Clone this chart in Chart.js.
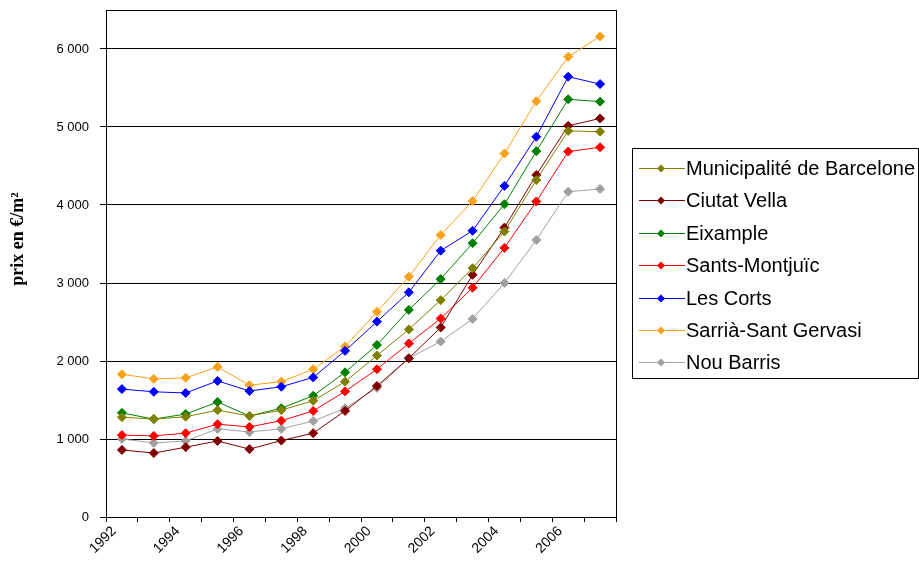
<!DOCTYPE html>
<html>
<head>
    <title>Prix au m2 - Barcelone</title>
    <script src="https://cdn.jsdelivr.net/npm/chart.js"></script>
    <style>
        html, body {margin: 0; padding: 0; background: #fff;}
        #chartContainer {width: 919px; height: 578px; position: relative;}
    </style>
</head>
<body>
<div id="chartContainer">
    <canvas id="chart" width="919" height="578"></canvas>
</div>

<script>
    // years on the x axis, only the even ones get a label
    var years = ['1992', '1993', '1994', '1995', '1996', '1997', '1998', '1999',
                 '2000', '2001', '2002', '2003', '2004', '2005', '2006', '2007'];
    var yTicks = [0, 1000, 2000, 3000, 4000, 5000, 6000];

    // prix en euros par m2
    var municipalite = [1280, 1255, 1285, 1370, 1295, 1370, 1490, 1735, 2070, 2405, 2780, 3190, 3660, 4320, 4950, 4940];
    var ciutatVella  = [860, 820, 895, 975, 870, 980, 1075, 1360, 1680, 2035, 2430, 3105, 3710, 4385, 5015, 5110];
    var eixample     = [1335, 1255, 1320, 1475, 1295, 1395, 1555, 1855, 2205, 2655, 3050, 3510, 4010, 4690, 5355, 5325];
    var santsMontjuic = [1050, 1040, 1075, 1190, 1155, 1235, 1360, 1610, 1895, 2225, 2545, 2940, 3450, 4045, 4685, 4740];
    var lesCorts     = [1640, 1605, 1590, 1745, 1615, 1670, 1790, 2130, 2505, 2880, 3415, 3670, 4245, 4875, 5645, 5550];
    var sarria       = [1830, 1770, 1785, 1925, 1690, 1735, 1895, 2185, 2630, 3080, 3615, 4050, 4660, 5330, 5900, 6160];
    var nouBarris    = [1000, 950, 975, 1130, 1090, 1130, 1230, 1395, 1655, 2035, 2250, 2540, 3000, 3550, 4170, 4205];

    var seriesNames = ['Municipalité de Barcelone', 'Ciutat Vella', 'Eixample', 'Sants-Montjuïc',
                       'Les Corts', 'Sarrià-Sant Gervasi', 'Nou Barris'];
    var seriesData = [municipalite, ciutatVella, eixample, santsMontjuic, lesCorts, sarria, nouBarris];
    var seriesColors = ['#808000', '#800000', '#008000', '#FF0000', '#0000FF', '#F9A11B', '#A0A0A0'];

    var sansFont = "'Liberation Sans', Arial, sans-serif";

    var datasets = seriesNames.map(function(name, i) {
        return {
            label: name,
            data: seriesData[i],
            borderColor: seriesColors[i],
            backgroundColor: seriesColors[i],
            borderWidth: 1,
            pointStyle: 'rectRot',
            pointRadius: 4.5,
            pointBorderWidth: 1,
            fill: false,
            tension: 0
        };
    });

    function formatThousands(v) {
        return String(v).replace(/\B(?=(\d{3})+(?!\d))/g, ' ');
    }

    // frame round the plot, y title and the boxed legend (Excel style)
    var excelBits = {
        id: 'excelBits',
        afterDraw: function(chart) {
            var ctx = chart.ctx;
            var a = chart.chartArea;
            ctx.save();
            ctx.strokeStyle = '#000';
            ctx.lineWidth = 1;
            ctx.strokeRect(Math.round(a.left) + 0.5, Math.round(a.top) + 0.5,
                           Math.round(a.right - a.left), Math.round(a.bottom - a.top));

            // y axis title
            ctx.translate(18, 239);
            ctx.rotate(-Math.PI / 2);
            ctx.fillStyle = '#000';
            ctx.font = "bold 18px 'Liberation Serif', 'Times New Roman', serif";
            ctx.textAlign = 'center';
            ctx.textBaseline = 'middle';
            ctx.fillText('prix en €/m²', 0, 0);
            ctx.restore();

            // legend
            ctx.save();
            var bx = 632, by = 148, bw = 286, bh = 230;
            ctx.strokeStyle = '#000';
            ctx.lineWidth = 1;
            ctx.strokeRect(bx + 0.5, by + 0.5, bw, bh);
            ctx.font = '20px ' + sansFont;
            ctx.textBaseline = 'middle';
            ctx.textAlign = 'left';
            chart.data.datasets.forEach(function(ds, i) {
                var y = Math.round(168 + i * 32.4) + 0.5;
                ctx.strokeStyle = ds.borderColor;
                ctx.beginPath();
                ctx.moveTo(639, y);
                ctx.lineTo(685, y);
                ctx.stroke();
                ctx.fillStyle = ds.borderColor;
                ctx.beginPath();
                ctx.moveTo(661, y - 4);
                ctx.lineTo(665, y);
                ctx.lineTo(661, y + 4);
                ctx.lineTo(657, y);
                ctx.closePath();
                ctx.fill();
                ctx.fillStyle = '#000';
                ctx.fillText(ds.label, 686, y + 1);
            });
            ctx.restore();
        }
    };

    var ctx = document.getElementById('chart').getContext('2d');
    var chart = new Chart(ctx, {
        type: 'line',
        data: {
            labels: years,
            datasets: datasets
        },
        options: {
            responsive: false,
            animation: false,
            devicePixelRatio: 1,
            layout: {
                padding: {top: 10, right: 303, left: 0, bottom: 0}
            },
            plugins: {
                legend: {display: false},
                title: {display: false},
                tooltip: {enabled: false}
            },
            scales: {
                x: {
                    offset: true,
                    grid: {
                        offset: true,
                        drawOnChartArea: false,
                        drawTicks: true,
                        tickLength: 5,
                        color: '#000'
                    },
                    border: {color: '#000'},
                    ticks: {
                        autoSkip: false,
                        maxRotation: 45,
                        minRotation: 45,
                        padding: 1,
                        labelOffset: -8,
                        color: '#000',
                        font: {family: sansFont, size: 14},
                        callback: function(value, index) {
                            return index % 2 === 0 ? this.getLabelForValue(value) : '';
                        }
                    },
                    afterFit: function(scale) {
                        scale.height = 61;
                        scale.paddingLeft = 0;
                        scale.paddingRight = 0;
                    }
                },
                y: {
                    min: 0,
                    max: 6500,
                    grid: {
                        color: '#000',
                        lineWidth: 1,
                        drawTicks: true,
                        tickLength: 6
                    },
                    border: {color: '#000'},
                    ticks: {
                        stepSize: 1000,
                        padding: 11,
                        color: '#000',
                        font: {family: sansFont, size: 13},
                        callback: function(value) { return formatThousands(value); }
                    },
                    afterBuildTicks: function(scale) {
                        scale.ticks = yTicks.map(function(v) { return {value: v}; });
                    },
                    afterFit: function(scale) {
                        scale.width = 106;
                        scale.paddingTop = 0;
                        scale.paddingBottom = 0;
                    }
                }
            }
        },
        plugins: [excelBits]
    });
</script>
</body>
</html>
